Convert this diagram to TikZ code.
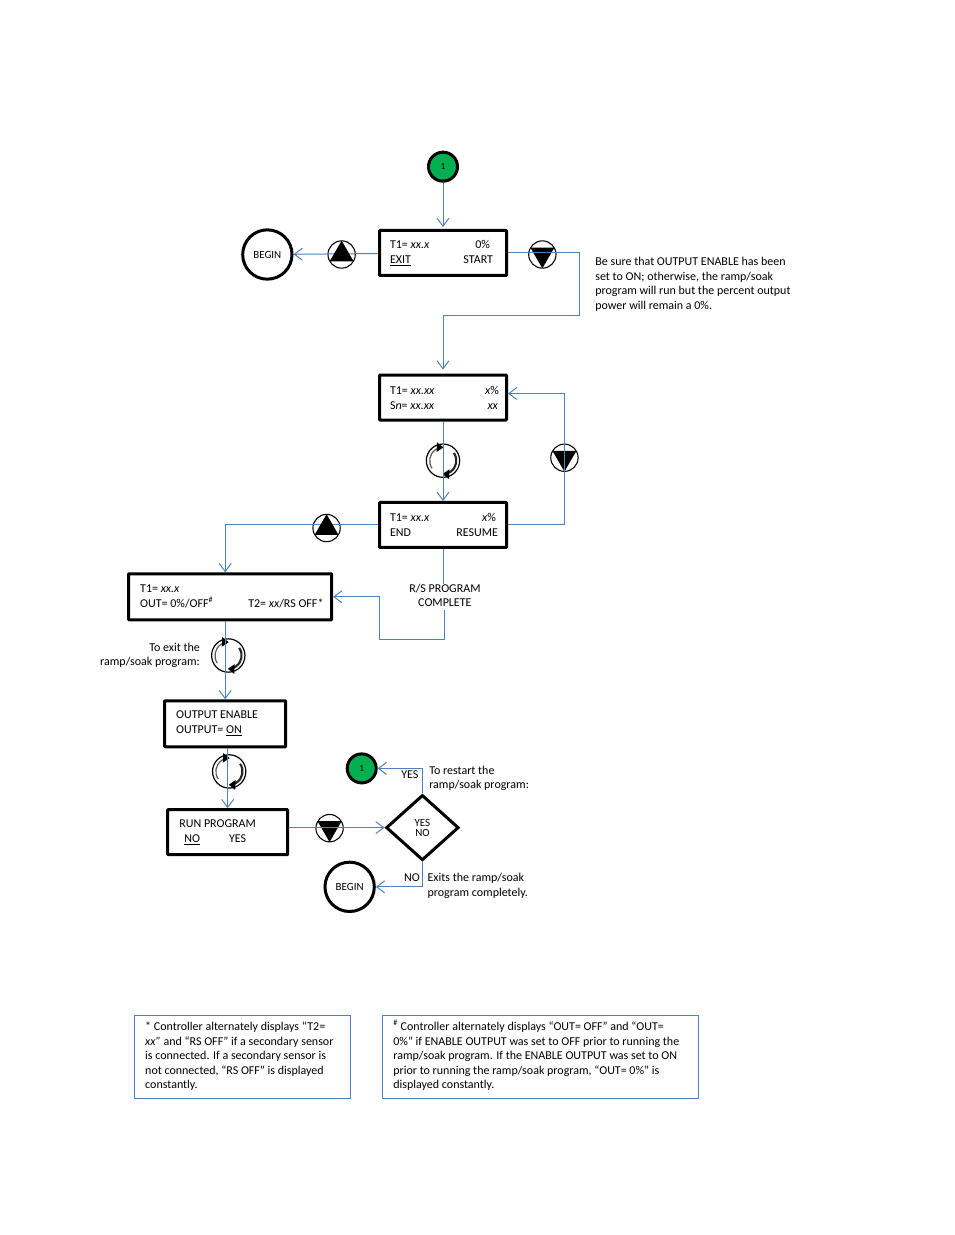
\documentclass[tikz,border=0pt]{standalone}
\usepackage{fontspec}
\setmainfont{Carlito}
\usetikzlibrary{shapes, arrows.meta}
\definecolor{flowblue}{HTML}{4F81BD}
\definecolor{startgreen}{HTML}{00B050}
\tikzstyle{lcdbox} = [rectangle, draw=black, line width=2.25pt, rounded corners=0.5pt, minimum width=95.25pt, minimum height=33.75pt, inner sep=0pt, font=\fontsize{9}{11.25}\selectfont]
\tikzstyle{endcircle} = [circle, draw=black, line width=2.25pt, minimum size=37pt, inner sep=0pt, font=\fontsize{8.2}{9}\selectfont]
\tikzstyle{startcircle} = [circle, draw=black, fill=startgreen, line width=2.25pt, minimum size=21.75pt, inner sep=0pt, font=\fontsize{7}{8}\selectfont]
\tikzstyle{keybtn} = [circle, draw=black, line width=0.8pt, minimum size=20.5pt, inner sep=0pt]
\tikzstyle{cyclebtn} = [circle, draw=black, line width=0.9pt, minimum size=25pt, inner sep=0pt]
\tikzstyle{uptri} = [regular polygon, regular polygon sides=3, fill=black, minimum size=20.8pt, inner sep=0pt]
\tikzstyle{downtri} = [uptri, shape border rotate=180]
\tikzstyle{decision} = [diamond, draw=black, line width=2.25pt, minimum width=54.5pt, minimum height=49pt, inner sep=0pt, align=center, font=\fontsize{8.2}{7.5}\selectfont]
\tikzstyle{notebox} = [rectangle, draw=flowblue, line width=0.75pt, minimum width=162pt, minimum height=62.25pt, inner sep=0pt]
\tikzstyle{flow} = [draw=flowblue, line width=0.75pt]
\tikzstyle{arrow} = [flow, -{Straight Barb[length=6pt,width=9pt]}]
\tikzstyle{textlabel} = [inner sep=0pt, align=left]
\begin{document}
\begin{tikzpicture}[]
\useasboundingbox (0,0) rectangle (715.5pt,926.25pt);
\fontsize{9}{10.9}\selectfont

%==============================================
%Pantallas
%==============================================
%Pantalla 1==============================================
\node (lcd1) [lcdbox] at (332.25pt,736.5pt) {
	\begin{minipage}{79.5pt}
		T1= \textit{xx.x}\hfill 0\%\hspace*{4.5pt}\\
		\underline{EXIT}\hfill START\hspace*{2.25pt}
	\end{minipage}
};
\node (circ1) [startcircle, above of=lcd1, yshift=1.275cm] {1};
\node (up1) [keybtn, left of=lcd1, xshift=-1.672cm, yshift=-0.04cm] {};
\node (begin1) [endcircle, left of=up1, xshift=-0.958cm] {BEGIN};
\node (down1) [keybtn, right of=lcd1, xshift=1.619cm, yshift=-0.04cm] {};
\node (note0) [textlabel, right of=down1, xshift=2.97cm, yshift=-0.79cm] {Be sure that OUTPUT ENABLE has been\\set to ON; otherwise, the ramp/soak\\program will run but the percent output\\power will remain a 0\%.};

%Pantalla 2==============================================
\node (lcd2) [lcdbox, below of=lcd1, yshift=-2.81cm] {
	\begin{minipage}{79.5pt}
		T1= \textit{xx.xx}\hfill\textit{x}\%\hspace*{-2.25pt}\\
		S\textit{n}= \textit{xx.xx}\hfill\textit{xx}\hspace*{-1.5pt}
	\end{minipage}
};
\node (cyc1) [cyclebtn, below of=lcd2, yshift=-0.665cm] {};
\node (down2) [keybtn, right of=lcd2, xshift=2.201cm, yshift=-1.587cm] {};

%Pantalla 3==============================================
\node (lcd3) [lcdbox, below of=lcd2, yshift=-2.36cm] {
	\begin{minipage}{79.5pt}
		T1= \textit{xx.x}\hfill\textit{x}\%\\
		END\hfill RESUME\hspace*{-1.5pt}
	\end{minipage}
};
\node (up2) [keybtn, left of=lcd3, xshift=-2.069cm, yshift=-0.08cm] {};
\node (rslabel) [textlabel, align=center, below of=lcd3, xshift=0.05cm, yshift=-0.852cm] {R/S PROGRAM\\COMPLETE};
\coordinate (rsturn) at ([xshift=-48.75pt,yshift=-33pt]rslabel.center);

%Pantalla 4==============================================
\node (lcd4) [lcdbox, minimum width=152.25pt, minimum height=34.5pt, below of=lcd3, xshift=-5.61cm, yshift=-0.892cm] {
	\begin{minipage}{135pt}
		T1= \textit{xx.x}\\
		OUT= 0\%/OFF\textsuperscript{\#}\hfill T2= \textit{xx}/RS OFF*\hspace*{-2.5pt}
	\end{minipage}
};
\node (cyc2) [cyclebtn, below of=lcd4, xshift=-0.05cm, yshift=-0.548cm] {};
\node (exitlabel) [textlabel, align=right, left of=cyc2, xshift=-1.063cm] {To exit the\\ramp/soak program:};

%Pantalla 5==============================================
\node (lcd5) [lcdbox, minimum width=90.75pt, minimum height=34.5pt, below of=lcd4, xshift=-0.132cm, yshift=-2.347cm] {
	\begin{minipage}{73.5pt}
		OUTPUT ENABLE\\
		OUTPUT= \underline{ON}
	\end{minipage}
};
\node (cyc3) [cyclebtn, below of=lcd5, xshift=0.106cm, yshift=-0.257cm] {};

%Pantalla 6==============================================
\node (lcd6) [lcdbox, minimum width=90pt, below of=lcd5, xshift=0.066cm, yshift=-1.858cm] {
	\begin{minipage}{72.5pt}
		RUN PROGRAM\\
		\hspace*{3.75pt}\underline{NO}\hspace{21.75pt}YES
	\end{minipage}
};
\node (down3) [keybtn, right of=lcd6, xshift=1.686cm, yshift=0.106cm] {};

%Decision==============================================
\node (dec1) [decision, right of=lcd6, xshift=4.133cm, yshift=0.12cm] {YES\\NO};
\node (circ2) [startcircle, left of=dec1, xshift=-0.6cm, yshift=1.561cm] {1};
\node (begin2) [endcircle, left of=dec1, xshift=-0.918cm, yshift=-1.561cm] {BEGIN};
\node (yeslabel) [textlabel, above of=dec1, xshift=-0.33cm, yshift=0.402cm] {YES};
\node (nolabel) [textlabel, below of=dec1, xshift=-0.278cm, yshift=-0.323cm] {NO};
\node (restartlabel) [textlabel, right of=dec1, xshift=0.495cm, yshift=1.30cm] {To restart the\\ramp/soak program:};
\node (exitslabel) [textlabel, right of=dec1, xshift=0.46cm, yshift=-1.53cm] {Exits the ramp/soak\\program completely.};

%Notas==============================================
\node (note1) [notebox, below of=lcd6, xshift=0.384cm, yshift=-4.914cm] {
	\begin{minipage}{145.5pt}
		* Controller alternately displays “T2=\\
		\textit{xx”} and “RS OFF” if a secondary sensor\\
		is connected. If a secondary sensor is\\
		not connected, “RS OFF” is displayed\\
		constantly.
	\end{minipage}
};
\node (note2) [notebox, minimum width=237pt, right of=note1, xshift=6.858cm] {
	\begin{minipage}{220.5pt}
		\smash{\textsuperscript{\#}} Controller alternately displays “OUT= OFF” and “OUT=\\
		0\%” if ENABLE OUTPUT was set to OFF prior to running the\\
		ramp/soak program. If the ENABLE OUTPUT was set to ON\\
		prior to running the ramp/soak program, “OUT= 0\%” is\\
		displayed constantly.
	\end{minipage}
};

%Teclas==============================================
\foreach \k/\t in {down1/tdown1, down2/tdown2, down3/tdown3}
	\node (\t) [downtri] at (\k) {};
\foreach \c in {cyc1, cyc2, cyc3} {
	\draw [line width=0.9pt, black!65, -{Triangle[length=5pt,width=7pt,black]}] ([shift={(215:10pt)}]\c.center) arc [start angle=215, end angle=88, radius=10pt];
	\draw [line width=1.6pt, black!85, -{Triangle[length=5pt,width=7pt,black]}] ([shift={(35:10pt)}]\c.center) arc [start angle=35, end angle=-92, radius=10pt];
}

%==============================================
\draw [arrow, shorten >=1.5pt] (circ1) -- (lcd1);
\draw [arrow] (lcd1) -- (begin1);
\draw [arrow, shorten >=3pt] (lcd1.east) -- ++(53.25pt,0) -- ++(0,-47.25pt) -| (lcd2.north);
\draw [arrow] (lcd2) -- (lcd3);
\draw [arrow] (lcd3.east) -| (down2.center) |- ([yshift=3pt]lcd2.east);
\draw [arrow] (lcd3.west) -| ([xshift=-3.75pt]lcd4.north);
\draw [flow] (lcd3.south) -- (lcd3.south |- rslabel.north);
\draw [arrow] ([yshift=-2.5pt]rslabel.south) |- (rsturn) |- (lcd4.east);
\draw [arrow] (lcd4.south -| lcd5.north) -- (lcd5.north);
\draw [arrow] (lcd5.south -| lcd6.north) -- (lcd6.north);
\draw [arrow] (lcd6.east |- dec1) -- (dec1);
\draw [arrow] (dec1.north) |- (circ2);
\draw [arrow] (dec1.south) |- (begin2);

\foreach \k/\t in {up1/tup1, up2/tup2}
	\node (\t) [uptri] at (\k) {};
\end{tikzpicture}
\end{document}
